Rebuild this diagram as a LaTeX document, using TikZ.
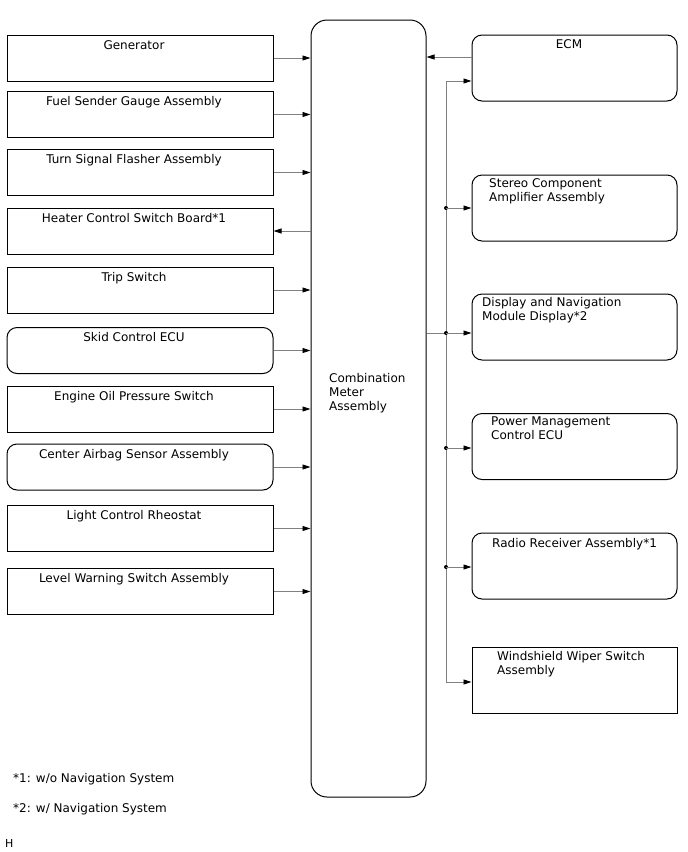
\documentclass[tikz,border=0pt]{standalone}
\usepackage{fontspec}
\setmainfont{DejaVu Sans}
\usepackage{tikz}
\usetikzlibrary{arrows.meta,positioning}

\begin{document}
\begin{tikzpicture}[x=1pt,y=-1pt,font=\fontsize{12}{14}\selectfont,
  lbox/.style={draw,line width=1pt,minimum width=266pt,minimum height=46pt,inner sep=0pt},
  rbox/.style={draw,line width=1pt,rounded corners=10pt,minimum width=205pt,minimum height=66pt,inner sep=0pt},
  lbl/.style={anchor=north,inner sep=5.5pt,xshift=-6pt},
  txt/.style={anchor=north west,inner sep=0pt,align=left},
  conn/.style={gray,line width=0.9pt,-{Triangle[black,length=8pt,width=5pt]}}]
\useasboundingbox (0,0) rectangle (688,852);
% centre unit
\node[draw,line width=1pt,rounded corners=16pt,minimum width=115pt,minimum height=777pt] (cma) at (368.5,408.5) {};
\node[txt] (cmat) at (329,373) {Combination\\Meter\\Assembly};
% left side
\node[lbox,label={[lbl]north:Generator}] (gen) at (140,58) {};
\node[lbox,label={[lbl]north:Fuel Sender Gauge Assembly}] (fuel) at (140,114.5) {};
\node[lbox,label={[lbl]north:Turn Signal Flasher Assembly}] (turn) at (140,172.5) {};
\node[lbox,label={[lbl]north:Heater Control Switch Board*1}] (heat) at (140,231) {};
\node[lbox,label={[lbl]north:Trip Switch}] (trip) at (140,290) {};
\node[lbox,rounded corners=10pt,label={[lbl]north:Skid Control ECU}] (skid) at (140,350.5) {};
\node[lbox,label={[lbl]north:Engine Oil Pressure Switch}] (oil) at (140,409) {};
\node[lbox,rounded corners=10pt,label={[lbl]north:Center Airbag Sensor Assembly}] (bag) at (140,467) {};
\node[lbox,label={[lbl]north:Light Control Rheostat}] (rheo) at (140,528.5) {};
\node[lbox,label={[lbl]north:Level Warning Switch Assembly}] (lvl) at (140,591.5) {};
\draw[conn] (gen.east) -- (gen.east -| cma.west);
\draw[conn] (fuel.east) -- (fuel.east -| cma.west);
\draw[conn] (turn.east) -- (turn.east -| cma.west);
\draw[conn] (heat.east -| cma.west) -- (heat.east);
\draw[conn] (trip.east) -- (trip.east -| cma.west);
\draw[conn] (skid.east) -- (skid.east -| cma.west);
\draw[conn] (oil.east) -- (oil.east -| cma.west);
\draw[conn] (bag.east) -- (bag.east -| cma.west);
\draw[conn] (rheo.east) -- (rheo.east -| cma.west);
\draw[conn] (lvl.east) -- (lvl.east -| cma.west);
% right side
\node[rbox] (ecm) at (574.5,68) {};
\node[anchor=north,inner sep=0pt] (ecmt) at (569,39) {ECM};
\node[rbox] (amp) at (574.5,208) {};
\node[txt] (ampt) at (489,178.5) {Stereo Component\\Amplifier Assembly};
\node[rbox] (disp) at (574.5,327) {};
\node[txt] (dispt) at (482,297.5) {Display and Navigation\\Module Display*2};
\node[rbox] (pwr) at (574.5,446.5) {};
\node[txt] (pwrt) at (491,416.5) {Power Management\\Control ECU};
\node[rbox] (radio) at (574.5,566) {};
\node[txt] (radiot) at (492,538.5) {Radio Receiver Assembly*1};
\node[rbox,rounded corners=0pt] (wiper) at (574.5,680.5) {};
\node[txt] (wipert) at (497,651.5) {Windshield Wiper Switch\\Assembly};
\draw[conn] ([yshift=11pt]ecm.west) coordinate (e0) -- (e0 -| cma.east);
% bus
\coordinate (b0) at (446,81);
\coordinate (b1) at (446,208);
\coordinate (bj) at (446,333);
\coordinate (b3) at (446,448);
\coordinate (b4) at (446,567);
\coordinate (b5) at (446,682);
\draw[gray,line width=0.9pt] (b0) -- (b5);
\draw[gray,line width=0.9pt] (bj -| cma.east) -- (bj);
\foreach \p in {b1,bj,b3,b4} \fill (\p) circle (2pt);
\draw[conn] (b0) -- (b0 -| ecm.west);
\draw[conn] (b1) -- (b1 -| amp.west);
\draw[conn] (bj) -- (bj -| disp.west);
\draw[conn] (b3) -- (b3 -| pwr.west);
\draw[conn] (b4) -- (b4 -| radio.west);
\draw[conn] (b5) -- (b5 -| wiper.west);
% notes
\node[txt] (fn1) at (13,773) {*1: w/o Navigation System};
\node[txt] (fn2) at (13,803) {*2: w/ Navigation System};
\node[txt,font=\fontsize{11}{13}\selectfont] (hh) at (5,839) {H};
\end{tikzpicture}
\end{document}
